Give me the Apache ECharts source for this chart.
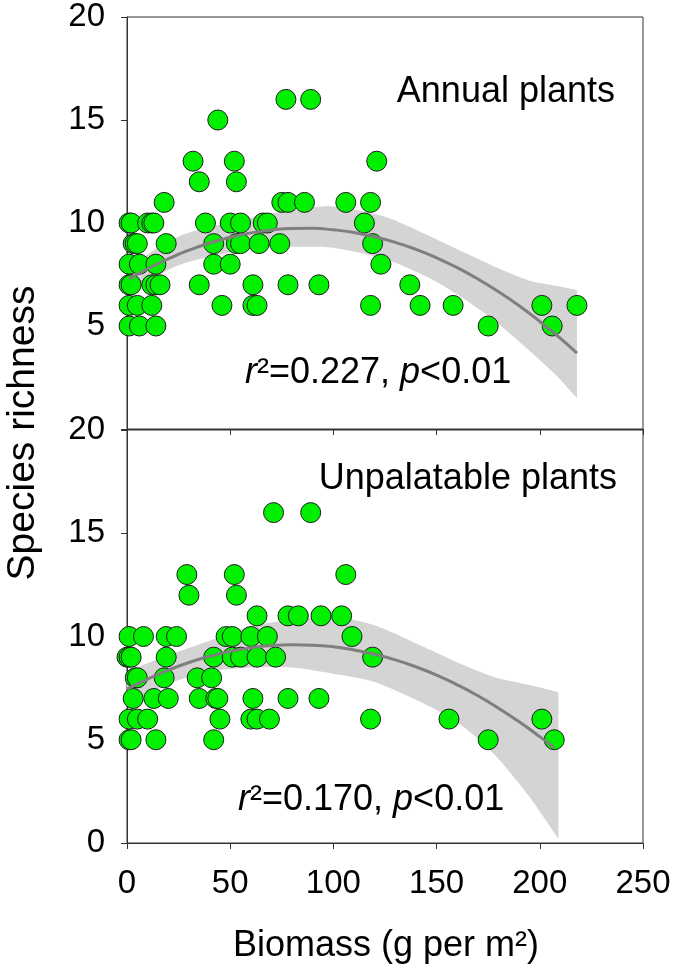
<!DOCTYPE html>
<html>
<head>
<meta charset="utf-8">
<script src="https://cdn.jsdelivr.net/npm/echarts@6/dist/echarts.min.js"></script>
<style>
html,body{margin:0;padding:0;background:#fff;}
#chart{width:675px;height:972px;}
</style>
</head>
<body>
<div id="chart"></div>
<script>
// ---------- data ----------
// Annual plants panel (top)
const annualX = [77, 89, 44, 32, 52, 121, 35, 53,
  18, 75, 78, 86, 106, 118,
  1, 2, 10, 12, 13, 38, 50, 55, 66, 68, 115,
  3, 4, 5, 19, 42, 53, 55, 64, 74, 119,
  1, 6, 14, 42, 50, 123,
  1, 2, 12, 14, 16, 35, 61, 78, 93, 137,
  1, 5, 12, 46, 61, 63, 118, 142, 158, 201, 218,
  1, 6, 14, 175, 206];
const annualY = [16, 16, 15, 13, 13, 13, 12, 12,
  11, 11, 11, 11, 11, 11,
  10, 10, 10, 10, 10, 10, 10, 10, 10, 10, 10,
  9, 9, 9, 9, 9, 9, 9, 9, 9, 9,
  8, 8, 8, 8, 8, 8,
  7, 7, 7, 7, 7, 7, 7, 7, 7, 7,
  6, 6, 6, 6, 6, 6, 6, 6, 6, 6, 6,
  5, 5, 5, 5, 5];
// Unpalatable plants panel (bottom)
const unpalX = [71, 89, 29, 52, 106, 30, 53,
  63, 78, 83, 94, 104,
  1, 8, 19, 24, 48, 51, 60, 68, 109,
  0, 1, 2, 19, 42, 51, 55, 63, 72, 119,
  4, 5, 18, 34, 41,
  3, 13, 20, 35, 43, 44, 61, 78, 93,
  1, 5, 10, 45, 60, 63, 69, 118, 156, 201,
  1, 2, 14, 42, 175, 207];
const unpalY = [16, 16, 13, 13, 13, 12, 12,
  11, 11, 11, 11, 11,
  10, 10, 10, 10, 10, 10, 10, 10, 10,
  9, 9, 9, 9, 9, 9, 9, 9, 9, 9,
  8, 8, 8, 8, 8,
  7, 7, 7, 7, 7, 7, 7, 7, 7,
  6, 6, 6, 6, 6, 6, 6, 6, 6, 6,
  5, 5, 5, 5, 5, 5];

// fitted curves
const fitAnnualX = [1, 10, 20, 30, 40, 50, 60, 70, 80, 90, 100, 110, 120, 130, 140, 150, 160, 170, 180, 190, 200, 210, 218];
const fitAnnualY = [7.28, 7.78, 8.26, 8.68, 9.03, 9.31, 9.52, 9.66, 9.73, 9.74, 9.67, 9.54, 9.33, 9.06, 8.72, 8.31, 7.83, 7.28, 6.66, 5.98, 5.22, 4.40, 3.68];
const fitUnpalX = [0, 10, 20, 30, 40, 50, 60, 70, 80, 90, 100, 110, 120, 130, 140, 150, 160, 170, 180, 190, 200, 207];
const fitUnpalY = [7.45, 7.94, 8.37, 8.74, 9.04, 9.28, 9.45, 9.56, 9.60, 9.58, 9.50, 9.35, 9.14, 8.87, 8.53, 8.13, 7.66, 7.13, 6.53, 5.87, 5.15, 4.61];

// confidence bands
const bandAnnualX = [1, 25, 60, 85, 100, 125, 147, 165, 180, 195, 208, 218];
const bandAnnualHi = [7.9, 9.35, 10.25, 10.7, 10.8, 10.3, 9.35, 8.5, 7.8, 7.2, 6.95, 6.75];
const bandAnnualLo = [6.6, 7.95, 8.75, 8.85, 8.8, 8.25, 7.3, 6.2, 5.1, 3.8, 2.6, 1.5];
const bandUnpalX = [0, 20, 40, 60, 80, 100, 120, 147, 163, 179, 195, 209];
const bandUnpalHi = [8.3, 9.1, 9.8, 10.5, 10.8, 10.95, 10.55, 9.35, 8.62, 8.0, 7.65, 7.3];
const bandUnpalLo = [6.7, 7.7, 8.3, 8.5, 8.5, 8.2, 7.8, 6.6, 5.63, 4.18, 2.24, 0.2];

const xTicks = [0, 50, 100, 150, 200, 250];
const yTicks = [0, 5, 10, 15, 20];

const panelLabels = ['Annual plants', 'Unpalatable plants'];
const statLabels = ['{i|r}{n|²=0.227, }{i|p}{n|<0.01}', '{i|r}{n|²=0.170, }{i|p}{n|<0.01}'];
const xTitle = 'Biomass (g per m²)';
const yTitle = 'Species richness';

// ---------- chart ----------
const FONT = '"Liberation Sans", Arial, sans-serif';
const zip = (a, b) => a.map((v, i) => [v, b[i]]);

function bandSeries(idx, bx, lo, hi) {
  return {
    type: 'custom', xAxisIndex: idx, yAxisIndex: idx, z: 1, silent: true,
    data: bx.map((x, i) => [x, lo[i], hi[i]]),
    encode: { x: 0, y: [1, 2] },
    renderItem: function (params, api) {
      if (params.dataIndex !== 0) return null;
      const n = bx.length;
      const pts = [];
      for (let i = 0; i < n; i++) {
        const p = api.coord([bx[i], hi[i]]);
        pts.push(p);
        if (i === 0 || i === n - 1) pts.push(p.slice());
      }
      for (let i = n - 1; i >= 0; i--) {
        const p = api.coord([bx[i], lo[i]]);
        pts.push(p);
        if (i === 0 || i === n - 1) pts.push(p.slice());
      }
      return { type: 'polygon', shape: { points: pts, smooth: 0.25 }, style: { fill: '#d4d4d4' } };
    }
  };
}
function scatterSeries(idx, xs, ys) {
  return {
    type: 'scatter', xAxisIndex: idx, yAxisIndex: idx, z: 2, clip: false,
    data: zip(xs, ys), symbol: 'circle', symbolSize: 20,
    itemStyle: { color: '#00f000', borderColor: '#1c1c1c', borderWidth: 1, opacity: 1 },
    emphasis: { disabled: true }
  };
}
function lineSeries(idx, xs, ys) {
  return {
    type: 'line', xAxisIndex: idx, yAxisIndex: idx, z: 3, smooth: true,
    showSymbol: false, data: zip(xs, ys),
    lineStyle: { color: '#7f7f7f', width: 3 }, silent: true
  };
}
function xAxisOf(idx, showLabel) {
  return {
    type: 'value', gridIndex: idx, min: xTicks[0], max: xTicks[xTicks.length - 1],
    interval: xTicks[1] - xTicks[0],
    axisLine: { show: true, onZero: false, lineStyle: { color: '#333', width: 1 } },
    axisTick: { show: true, inside: false, length: 6, lineStyle: { color: '#333' } },
    splitLine: { show: false },
    axisLabel: { show: showLabel, fontSize: 33, color: '#000', fontFamily: FONT, margin: 24 }
  };
}
function yAxisOf(idx, hideZero) {
  return {
    type: 'value', gridIndex: idx, min: yTicks[0], max: yTicks[yTicks.length - 1],
    interval: yTicks[1] - yTicks[0],
    axisLine: { show: true, onZero: false, lineStyle: { color: '#333', width: 1 } },
    axisTick: { show: true, inside: false, length: 6, lineStyle: { color: '#333' } },
    splitLine: { show: false },
    axisLabel: {
      fontSize: 33, color: '#000', fontFamily: FONT, margin: 22,
      formatter: v => (hideZero && v === 0) ? '' : String(v)
    }
  };
}
function txt(x, y, text, align, size, rot) {
  return {
    type: 'text', x: x, y: y, silent: true, z: 100, rotation: rot || 0,
    style: { text: text, fill: '#000', fontSize: size, fontFamily: FONT, align: align, verticalAlign: 'middle' }
  };
}
const rich = {
  i: { fontStyle: 'italic', fontSize: 36, fontFamily: FONT, fill: '#000' },
  n: { fontSize: 36, fontFamily: FONT, fill: '#000' }
};

const chart = echarts.init(document.getElementById('chart'), null, { renderer: 'canvas' });
chart.setOption({
  animation: false,
  backgroundColor: '#fff',
  grid: [
    { left: 127, right: 32, top: 17, height: 412, show: true, borderColor: '#333', borderWidth: 1, backgroundColor: 'transparent' },
    { left: 127, right: 32, top: 430, height: 413, show: true, borderColor: '#333', borderWidth: 1, backgroundColor: 'transparent' }
  ],
  xAxis: [xAxisOf(0, false), xAxisOf(1, true)],
  yAxis: [yAxisOf(0, true), yAxisOf(1, false)],
  series: [
    bandSeries(0, bandAnnualX, bandAnnualLo, bandAnnualHi),
    scatterSeries(0, annualX, annualY),
    lineSeries(0, fitAnnualX, fitAnnualY),
    bandSeries(1, bandUnpalX, bandUnpalLo, bandUnpalHi),
    scatterSeries(1, unpalX, unpalY),
    lineSeries(1, fitUnpalX, fitUnpalY)
  ],
  graphic: [
    txt(615, 92, panelLabels[0], 'right', 36),
    txt(617, 479, panelLabels[1], 'right', 36),
    { type: 'text', x: 245, y: 373, silent: true, z: 100,
      style: { text: statLabels[0], rich: rich, fontSize: 36, fontFamily: FONT, align: 'left', verticalAlign: 'middle' } },
    { type: 'text', x: 238, y: 800, silent: true, z: 100,
      style: { text: statLabels[1], rich: rich, fontSize: 36, fontFamily: FONT, align: 'left', verticalAlign: 'middle' } },
    txt(386, 946, xTitle, 'center', 36),
    txt(23, 433, yTitle, 'center', 39, Math.PI / 2)
  ]
});
</script>
</body>
</html>
